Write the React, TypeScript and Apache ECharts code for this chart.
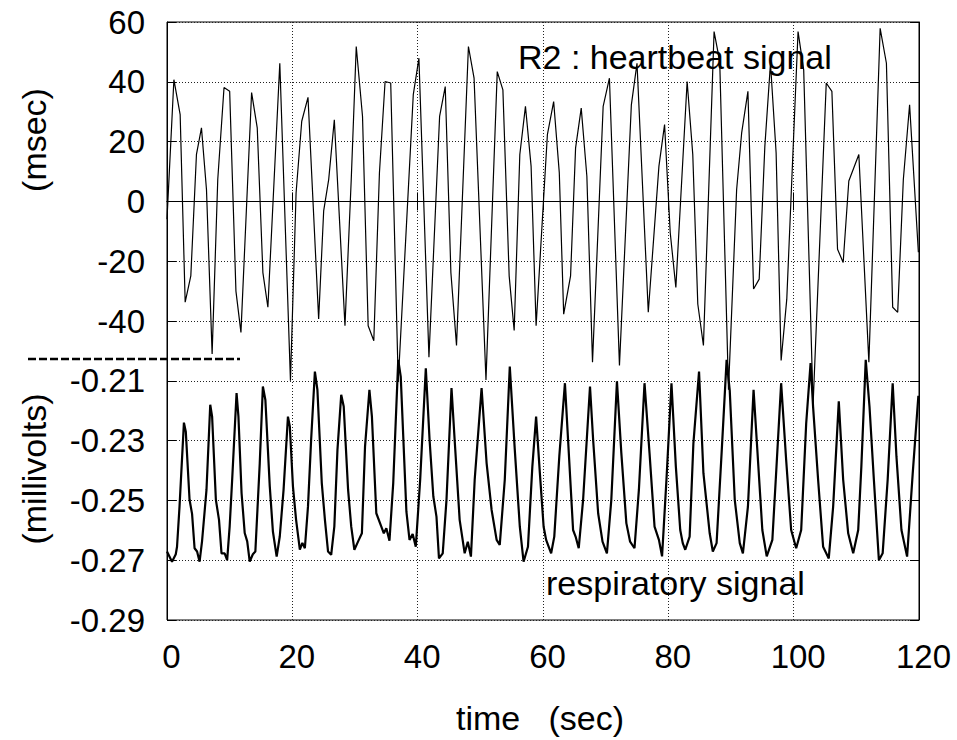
import React, { useEffect, useRef } from 'react';
import * as echarts from 'echarts';

const FONT = '"Liberation Sans", Arial, Helvetica, sans-serif';

const timeTicks = [0, 20, 40, 60, 80, 100, 120];
const msecTicks = [-40, -20, 0, 20, 40, 60];
const mvTicks = [-0.29, -0.27, -0.25, -0.23, -0.21];

// R2 : heartbeat signal (time in sec, msec)
const heartbeat: [number, number][] = [
  [0, -6], [1.1, 40.7], [2.1, 29], [2.9, -33.7], [3.8, -24.9], [4.7, 15.7], [5.5, 24.6],
  [6.3, 4], [7.2, -51], [8.1, 7.3], [9.1, 38.1], [10.0, 36.8], [11.0, -30], [11.8, -43.8],
  [13.5, 36.4], [14.4, 24.6], [15.3, -23.8], [16.1, -35.4], [18.0, 46.2], [19.7, -60],
  [20.6, 2.9], [21.5, 26.8], [22.5, 34.8], [24.2, -39.3], [25.0, -3.2], [25.8, 7.3],
  [26.7, 27.3], [28.4, -41.6], [29.4, 7.3], [30.2, 51.8], [31.2, 28.4], [32.1, -41.6],
  [33.0, -46.6], [33.9, 9.6], [34.8, 40.1], [35.7, 39.6], [36.9, -60.3], [39.3, 35.7],
  [40.2, 47.9], [41.8, -52.1], [43.5, 28.4], [44.4, 38.4], [45.3, -23.8], [46.2, -48.2],
  [48.1, 51.8], [49.0, 41.2], [50.9, -59.7], [52.7, 43.4], [53.6, 37.3], [54.6, -24.9],
  [55.4, -43.2], [56.3, 15.7], [57.2, 31.8], [58.1, 11.8], [58.9, -41.6], [60.7, 22.3],
  [61.7, 33.4], [62.6, 9.6], [63.3, -37.7], [64.4, -24.9], [65.2, 17.9], [66.1, 31.2],
  [67.0, 8.4], [67.9, -53.8], [69.6, 31.8], [70.6, 41.2], [72.2, -54.9], [74.1, 32.3],
  [75.0, 46.2], [76.8, -37.1], [78.5, 11.8], [79.4, 25.7], [80.3, -10.4], [81.2, -28.8],
  [83.0, 40.1], [83.9, 15.7], [84.7, -34.3], [85.6, -48.2], [87.3, 56.8], [88.2, 46.8],
  [89.6, -63], [90.9, 4], [91.7, 22.9], [92.7, 36.8], [93.6, -29.3], [94.5, -26],
  [95.4, 18.4], [96.3, 46.2], [97.2, 16.2], [98.0, -53.2], [98.9, -32.7], [100.7, 56.8],
  [101.6, 44], [103.1, -68], [105.2, 39.6], [106.1, 36.8], [107.0, -16], [107.9, -20.4],
  [108.8, 6.8], [110.4, 15.7], [112.0, -53.8], [113.8, 57.9], [114.8, 46.2], [115.8, -35.4],
  [116.6, -37.1], [117.5, 7.3], [118.5, 32.3], [119.9, -17],
];

// respiratory signal (time in sec, millivolts)
const respiratory: [number, number][] = [
  [0, -0.2671], [0.8, -0.2705], [1.4, -0.268], [1.6, -0.2655], [2.0, -0.252], [2.7, -0.224],
  [3.0, -0.227], [3.6, -0.2498], [4.0, -0.2545], [4.4, -0.266], [4.8, -0.2671], [5.2, -0.2705],
  [5.6, -0.2635], [6.3, -0.2465], [6.9, -0.218], [7.2, -0.222], [7.8, -0.2498], [8.3, -0.2565],
  [8.7, -0.2677], [9.2, -0.2677], [9.6, -0.27], [10.0, -0.2587], [10.4, -0.243], [11.1, -0.2141],
  [11.4, -0.222], [11.9, -0.2476], [12.4, -0.2609], [12.8, -0.2637], [13.2, -0.2705], [13.7, -0.268],
  [14.1, -0.2671], [14.8, -0.2376], [15.3, -0.2119], [15.7, -0.2164], [16.4, -0.2453], [16.9, -0.2604],
  [17.5, -0.2688], [18.0, -0.262], [18.6, -0.2465], [19.3, -0.222], [19.6, -0.2253], [20.1, -0.2454],
  [20.6, -0.2565], [21.2, -0.2665], [21.6, -0.2642], [22.0, -0.266], [22.5, -0.252], [23.0, -0.2297],
  [23.6, -0.2069], [24.0, -0.213], [24.7, -0.2442], [25.2, -0.2565], [25.7, -0.2671], [26.2, -0.2682],
  [26.7, -0.2588], [27.2, -0.2331], [27.8, -0.2147], [28.2, -0.2186], [28.9, -0.2465], [29.4, -0.2588],
  [29.9, -0.2665], [30.5, -0.2637], [31.1, -0.261], [31.6, -0.232], [32.3, -0.213], [32.7, -0.222],
  [33.4, -0.2543], [34.2, -0.2588], [34.6, -0.261], [35.0, -0.2593], [35.5, -0.2635], [36.1, -0.2442],
  [36.9, -0.203], [37.3, -0.2086], [38.2, -0.2537], [38.7, -0.2632], [39.2, -0.2612], [39.7, -0.2655],
  [40.4, -0.2431], [41.3, -0.2058], [41.9, -0.2297], [42.5, -0.2487], [43.0, -0.2554], [43.4, -0.2694],
  [44.0, -0.2677], [44.6, -0.2498], [45.4, -0.2124], [45.9, -0.2297], [46.7, -0.2565], [47.5, -0.2677],
  [48.0, -0.2638], [48.5, -0.2688], [49.1, -0.2431], [50.2, -0.2124], [51.0, -0.2375], [51.8, -0.2532],
  [52.6, -0.2632], [53.1, -0.2649], [53.9, -0.2431], [54.7, -0.2052], [55.5, -0.2331], [56.3, -0.2588],
  [56.9, -0.2705], [57.6, -0.2655], [58.3, -0.2387], [58.9, -0.222], [59.5, -0.2409], [60.1, -0.2588],
  [60.5, -0.2632], [61.3, -0.2677], [61.8, -0.2621], [62.6, -0.2353], [63.5, -0.2108], [64.0, -0.2297],
  [64.8, -0.2599], [65.2, -0.2621], [65.7, -0.266], [66.4, -0.2498], [67.5, -0.2119], [68.0, -0.2297],
  [68.8, -0.2543], [69.5, -0.2638], [70.2, -0.2677], [70.9, -0.2498], [71.8, -0.2102], [72.5, -0.2342],
  [73.3, -0.2576], [73.9, -0.2638], [74.6, -0.266], [75.3, -0.2465], [76.2, -0.2108], [77.0, -0.2342],
  [77.8, -0.2588], [78.5, -0.2632], [79.0, -0.2687], [79.7, -0.2431], [80.5, -0.2108], [81.2, -0.2387],
  [81.9, -0.2599], [82.3, -0.2643], [82.7, -0.2665], [83.4, -0.2621], [84.0, -0.2309], [84.9, -0.2069],
  [85.6, -0.2409], [86.6, -0.261], [87.1, -0.2671], [87.7, -0.2643], [88.5, -0.2342], [89.3, -0.203],
  [89.8, -0.2133], [90.6, -0.2498], [91.4, -0.2643], [91.9, -0.2677], [92.7, -0.2521], [93.6, -0.213],
  [94.1, -0.2297], [95.0, -0.2599], [95.7, -0.2687], [96.6, -0.2632], [97.2, -0.2409], [98.0, -0.2108],
  [98.8, -0.2364], [99.6, -0.2599], [100.4, -0.266], [101.2, -0.2599], [102.0, -0.2242], [102.7, -0.2041],
  [103.1, -0.2187], [103.9, -0.2431], [104.7, -0.2655], [105.6, -0.2694], [106.3, -0.2521], [107.2, -0.2169],
  [107.9, -0.2431], [108.7, -0.261], [109.5, -0.2677], [110.3, -0.2599], [110.8, -0.2387], [111.5, -0.203],
  [112.1, -0.2186], [112.8, -0.2431], [113.6, -0.27], [114.2, -0.2677], [115.0, -0.2431], [115.8, -0.2108],
  [116.4, -0.2353], [117.2, -0.2599], [118.1, -0.2688], [119.0, -0.2409], [119.9, -0.215],
];

const near = (list: number[], v: number) => list.find((t) => Math.abs(t - v) < 1e-6);

export default function App() {
  const ref = useRef<HTMLDivElement>(null);

  useEffect(() => {
    if (!ref.current) return;
    const chart = echarts.init(ref.current, null, { renderer: 'svg' });
    const gridDash = { color: '#222', width: 1, type: [1, 2] as any };
    const tickStyle = { show: true, inside: true, length: 9, lineStyle: { color: '#000', width: 1 } };
    chart.setOption({
      animation: false,
      backgroundColor: '#fff',
      textStyle: { fontFamily: FONT },
      grid: {
        left: 167,
        right: 38,
        top: 22,
        bottom: 120,
        show: true,
        borderColor: '#000',
        borderWidth: 1,
        containLabel: false,
        outerBoundsMode: 'none',
      },
      xAxis: [
        {
          type: 'value',
          position: 'bottom',
          min: 0,
          max: 120,
          interval: 20,
          axisLine: { show: true, lineStyle: { color: '#000', width: 1 } },
          axisTick: tickStyle,
          splitLine: { show: true, lineStyle: gridDash },
          axisLabel: {
            color: '#000',
            fontSize: 33,
            fontFamily: FONT,
            margin: 20,
            padding: [0, 0, 0, 9],
            formatter: (v: number) => (near(timeTicks, v) !== undefined ? String(v) : ''),
          },
        },
        {
          type: 'value',
          position: 'top',
          min: 0,
          max: 120,
          interval: 20,
          axisLine: { show: true, lineStyle: { color: '#000', width: 1 } },
          axisTick: tickStyle,
          splitLine: { show: false },
          axisLabel: { show: false },
        },
      ],
      yAxis: [
        {
          type: 'value',
          position: 'left',
          min: -140,
          max: 60,
          interval: 20,
          axisLine: { show: true, lineStyle: { color: '#000', width: 1 } },
          axisTick: tickStyle,
          splitLine: { show: true, lineStyle: gridDash },
          axisLabel: {
            color: '#000',
            fontSize: 33,
            fontFamily: FONT,
            margin: 22,
            formatter: (v: number) => (near(msecTicks, v) !== undefined ? String(v) : ''),
          },
        },
        {
          type: 'value',
          position: 'left',
          min: -0.29,
          max: -0.09,
          interval: 0.01,
          axisLine: { show: false },
          axisTick: { show: false },
          splitLine: { show: false },
          axisLabel: {
            color: '#000',
            fontSize: 33,
            fontFamily: FONT,
            margin: 22,
            formatter: (v: number) => {
              const m = near(mvTicks, v);
              return m !== undefined ? m.toFixed(2) : '';
            },
          },
        },
        {
          type: 'value',
          position: 'right',
          min: -140,
          max: 60,
          interval: 20,
          axisLine: { show: true, lineStyle: { color: '#000', width: 1 } },
          axisTick: tickStyle,
          splitLine: { show: false },
          axisLabel: { show: false },
        },
      ],
      series: [
        {
          name: 'respiratory signal',
          type: 'line',
          xAxisIndex: 0,
          yAxisIndex: 1,
          data: respiratory,
          symbol: 'none',
          showSymbol: false,
          lineStyle: { color: '#000', width: 2.2 },
          z: 3,
        },
        {
          name: 'R2 : heartbeat signal',
          type: 'line',
          xAxisIndex: 0,
          yAxisIndex: 0,
          data: heartbeat,
          symbol: 'none',
          showSymbol: false,
          lineStyle: { color: '#000', width: 1.2 },
          z: 4,
        },
      ],
      graphic: [
        {
          type: 'line',
          shape: { x1: 28, y1: 359, x2: 240, y2: 359 },
          style: { stroke: '#000', lineWidth: 2.5, lineDash: [8, 3] },
          z: 10,
        },
        {
          type: 'text',
          x: 518,
          y: 57,
          style: { text: 'R2 : heartbeat signal', fill: '#000', font: `34px ${FONT}`, verticalAlign: 'middle', align: 'left' },
          z: 10,
        },
        {
          type: 'text',
          x: 546,
          y: 583,
          style: { text: 'respiratory signal', fill: '#000', font: `34px ${FONT}`, verticalAlign: 'middle', align: 'left' },
          z: 10,
        },
        {
          type: 'text',
          x: 540,
          y: 718,
          style: { text: 'time   (sec)', fill: '#000', font: `34px ${FONT}`, verticalAlign: 'middle', align: 'center' },
          z: 10,
        },
        {
          type: 'text',
          x: 34,
          y: 140,
          rotation: Math.PI / 2,
          style: { text: '(msec)', fill: '#000', font: `34px ${FONT}`, verticalAlign: 'middle', align: 'center' },
          z: 10,
        },
        {
          type: 'text',
          x: 34,
          y: 469,
          rotation: Math.PI / 2,
          style: { text: '(millivolts)', fill: '#000', font: `34px ${FONT}`, verticalAlign: 'middle', align: 'center' },
          z: 10,
        },
      ],
    });
    return () => chart.dispose();
  }, []);

  return (
    <div
      ref={ref}
      style={{ position: 'fixed', left: 0, top: 0, width: 957, height: 740, background: '#fff' }}
    />
  );
}
